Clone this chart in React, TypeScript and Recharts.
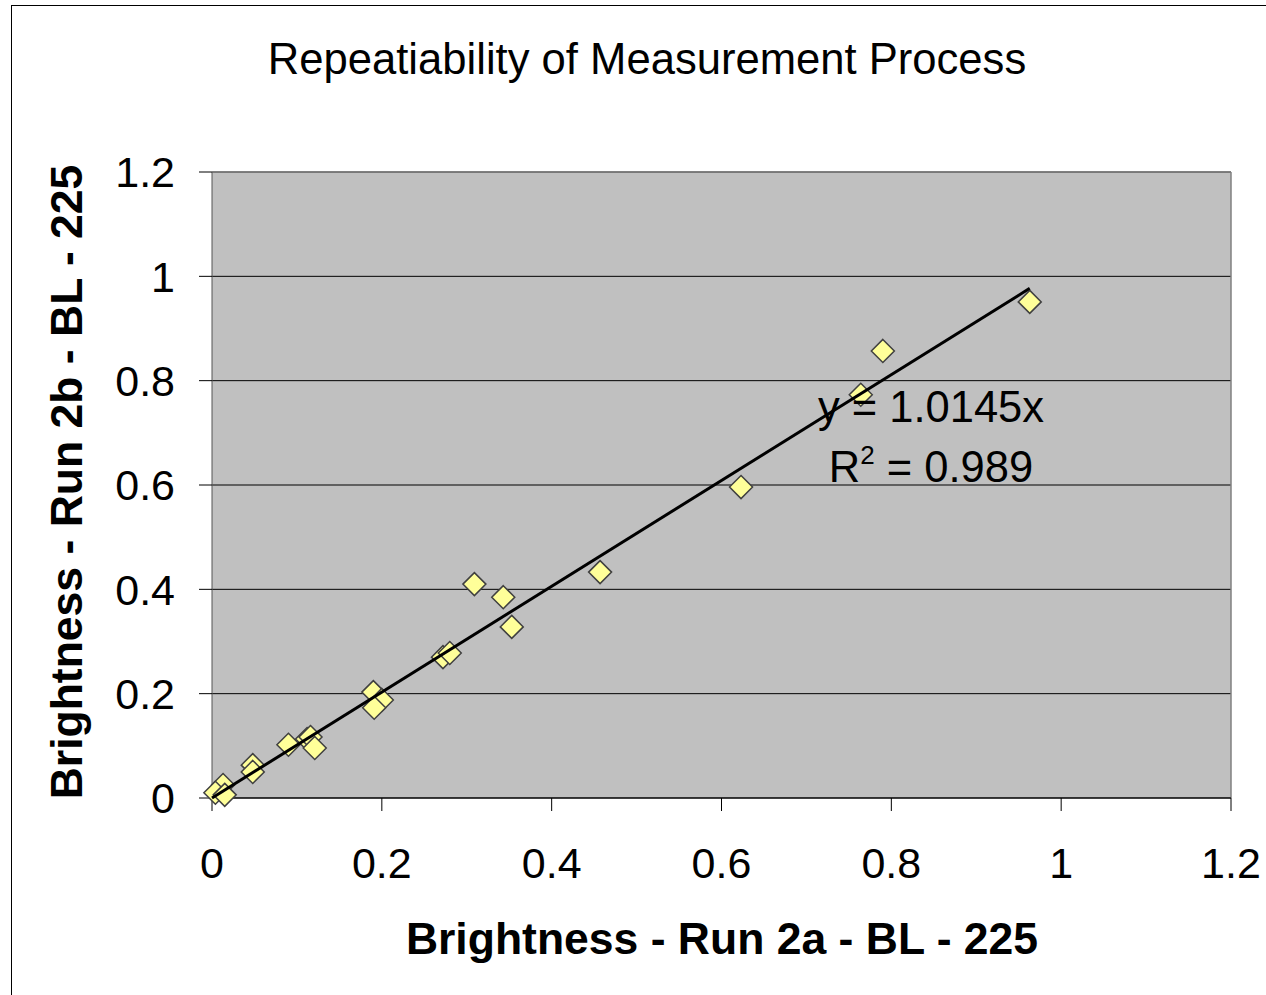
import { ScatterChart, Scatter, XAxis, YAxis, CartesianGrid, ReferenceLine } from 'recharts';

const runA = [0.963, 0.79, 0.764, 0.623, 0.457, 0.309, 0.343, 0.353, 0.272, 0.28, 0.19, 0.2, 0.191, 0.09, 0.112, 0.116, 0.121, 0.048, 0.048, 0.013, 0.004, 0.015];
const runB = [0.951, 0.857, 0.773, 0.596, 0.433, 0.41, 0.385, 0.328, 0.27, 0.278, 0.203, 0.188, 0.173, 0.102, 0.113, 0.117, 0.096, 0.063, 0.05, 0.025, 0.01, 0.006];
const trendX = [0, 0.963];
const slope = 1.0145;
const ticks = [0, 0.2, 0.4, 0.6, 0.8, 1, 1.2];
const tickLabels = ['0', '0.2', '0.4', '0.6', '0.8', '1', '1.2'];

const points = runA.map((x, i) => ({ x, y: runB[i] }));
const trend = trendX.map((x) => ({ x, y: x * slope }));

const font = '"Liberation Sans", Arial, sans-serif';
const fmt = (v: number) => tickLabels[ticks.indexOf(v)] ?? String(v);

const Diamond = (props: any) => {
  const { cx, cy } = props;
  const r = 11.5;
  return (
    <polygon
      points={`${cx},${cy - r} ${cx + r},${cy} ${cx},${cy + r} ${cx - r},${cy}`}
      fill="#FFFF99"
      stroke="#404040"
      strokeWidth={1.5}
    />
  );
};

export default function App() {
  return (
    <div style={{ position: 'absolute', left: 0, top: 0, width: 1266, height: 995, background: '#fff', overflow: 'hidden' }}>
      <div style={{ position: 'absolute', left: 11, top: 5, width: 1400, height: 1100, borderLeft: '1.5px solid #000', borderTop: '1.5px solid #000' }} />
      <ScatterChart width={1266} height={995} margin={{ top: 172, right: 35, bottom: 0, left: 0 }}>
        <CartesianGrid vertical={false} stroke="#000" fill="#C0C0C0" fillOpacity={1} />
        <XAxis
          type="number"
          dataKey="x"
          domain={[0, 1.2]}
          ticks={ticks}
          tickFormatter={fmt}
          height={197}
          tickSize={13}
          tickMargin={36}
          stroke="#000"
          tick={{ fill: '#000', fontSize: 43, fontFamily: font }}
        />
        <YAxis
          type="number"
          dataKey="y"
          domain={[0, 1.2]}
          ticks={ticks}
          tickFormatter={fmt}
          width={212}
          tickSize={13}
          tickMargin={24}
          stroke="#555"
          tickLine={{ stroke: '#000' }}
          tick={{ fill: '#000', fontSize: 43, fontFamily: font }}
        />
        <ReferenceLine y={1.2} stroke="#808080" strokeWidth={1.5} />
        <ReferenceLine x={1.2} stroke="#808080" strokeWidth={1.5} />
        <Scatter data={points} shape={Diamond} isAnimationActive={false} />
        <Scatter
          data={trend}
          line={{ stroke: '#000', strokeWidth: 3 }}
          shape={() => <g />}
          isAnimationActive={false}
        />
      </ScatterChart>
      <svg width={1266} height={995} style={{ position: 'absolute', left: 0, top: 0, pointerEvents: 'none' }}>
        <text x={647} y={74} textAnchor="middle" fontSize={43.6} fontFamily={font} fill="#000">
          Repeatiability of Measurement Process
        </text>
        <text x={722} y={954} textAnchor="middle" fontSize={44.5} fontWeight="bold" fontFamily={font} fill="#000">
          Brightness - Run 2a - BL - 225
        </text>
        <text
          x={82}
          y={482}
          textAnchor="middle"
          fontSize={44.5}
          fontWeight="bold"
          fontFamily={font}
          fill="#000"
          transform="rotate(-90 82 482)"
        >
          Brightness - Run 2b - BL - 225
        </text>
        <text x={931} y={422} textAnchor="middle" fontSize={43.5} fontFamily={font} fill="#000">
          y = 1.0145x
        </text>
        <text x={931} y={482} textAnchor="middle" fontSize={43.5} fontFamily={font} fill="#000">
          R<tspan dy={-18} fontSize={26}>2</tspan>
          <tspan dy={18}> = 0.989</tspan>
        </text>
      </svg>
    </div>
  );
}
